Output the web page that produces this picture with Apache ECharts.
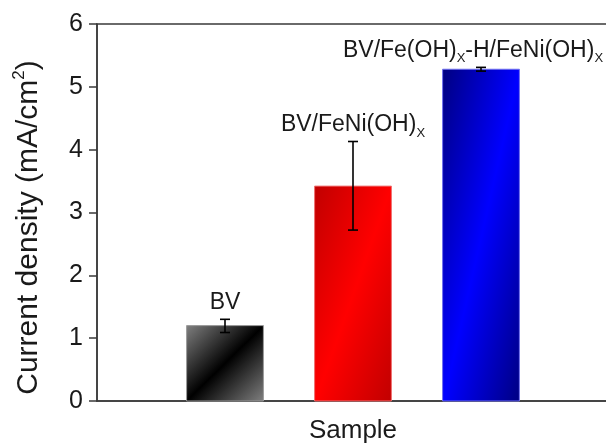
<!DOCTYPE html>
<html>
<head>
<meta charset="utf-8">
<script src="https://cdn.jsdelivr.net/npm/echarts@6/dist/echarts.min.js"></script>
<style>
  html, body { margin: 0; padding: 0; background: #ffffff; }
  #chart { width: 606px; height: 448px; }
</style>
</head>
<body>
<div id="chart"></div>
<script>
// Sample names (rich-text tags mark the subscripts)
const sampleLabels = ['BV', 'BV/FeNi(OH){s|X}', 'BV/Fe(OH){s|X}-H/FeNi(OH){s|X}'];
// Bar slots along the sample axis
const samplePositions = [1, 2, 3];
// Photocurrent density, mA/cm2
const currentDensity = [1.20, 3.42, 5.28];
// Error-bar limits
const errorLow = [1.09, 2.72, 5.25];
const errorHigh = [1.30, 4.13, 5.31];
// Y-axis tick range
const yMin = 0, yMax = 6, yStep = 1;

// Fill styles for each bar: corner colour, mid-diagonal colour, outline
const barPalettes = [
  { edge: '#808080', mid: '#000000', stroke: '#9a9a9a' },
  { edge: '#c00000', mid: '#ff0000', stroke: '#f07070' },
  { edge: '#000080', mid: '#0000ff', stroke: '#6f6ff0' }
];
const labelShiftX = [0, 0, -8];
const BAR_SPAN = 0.6;     // bar width in axis units
const CAP_HALF = 5;       // error-bar cap half width, px
const TEXT_COLOR = '#1a1a1a';
const AXIS_COLOR = '#3a3a3a';
const FONT = 'Liberation Sans, Arial, Helvetica, sans-serif';

const barData = samplePositions.map((x, i) => [x, currentDensity[i]]);
const errData = samplePositions.map((x, i) => [x, errorLow[i], errorHigh[i]]);
const labelData = samplePositions.map((x, i) => [x, errorHigh[i], i]);

function renderBar(params, api) {
  const x = api.value(0), v = api.value(1);
  const base = api.coord([x, 0]);
  const top = api.coord([x, v]);
  const w = api.size([BAR_SPAN, 0])[0];
  const h = base[1] - top[1];
  const s = h * h + w * w;
  const pal = barPalettes[params.dataIndex];
  // gradient bands run along the bar's anti-diagonal
  return {
    type: 'rect',
    shape: { x: base[0] - w / 2, y: top[1], width: w, height: h },
    style: {
      fill: {
        type: 'linear', x: 0, y: 0, x2: 2 * h * h / s, y2: 2 * w * w / s,
        colorStops: [
          { offset: 0, color: pal.edge },
          { offset: 0.5, color: pal.mid },
          { offset: 1, color: pal.edge }
        ]
      },
      stroke: pal.stroke,
      lineWidth: 1
    }
  };
}

function renderError(params, api) {
  const x = api.value(0);
  const lo = api.coord([x, api.value(1)]);
  const hi = api.coord([x, api.value(2)]);
  const st = { stroke: '#000000', lineWidth: 1.6 };
  return {
    type: 'group',
    children: [
      { type: 'line', shape: { x1: lo[0], y1: lo[1], x2: hi[0], y2: hi[1] }, style: st },
      { type: 'line', shape: { x1: lo[0] - CAP_HALF, y1: lo[1], x2: lo[0] + CAP_HALF, y2: lo[1] }, style: st },
      { type: 'line', shape: { x1: hi[0] - CAP_HALF, y1: hi[1], x2: hi[0] + CAP_HALF, y2: hi[1] }, style: st }
    ]
  };
}

function renderLabel(params, api) {
  const x = api.value(0);
  const idx = api.value(2);
  const p = api.coord([x, api.value(1)]);
  return {
    type: 'text',
    x: p[0] + labelShiftX[idx],
    y: p[1] - 2,
    style: {
      text: sampleLabels[idx],
      fill: TEXT_COLOR,
      fontFamily: FONT,
      fontSize: 23,
      lineHeight: 30,
      align: 'center',
      verticalAlign: 'bottom',
      rich: {
        s: { fontSize: 13, lineHeight: 13, verticalAlign: 'bottom', fill: TEXT_COLOR, fontFamily: FONT }
      }
    }
  };
}

const chart = echarts.init(document.getElementById('chart'), null, { renderer: 'canvas' });
chart.setOption({
  animation: false,
  backgroundColor: '#ffffff',
  grid: {
    left: 97, top: 24, width: 512, bottom: 47,
    outerBoundsMode: 'none',
    show: true, borderColor: AXIS_COLOR, borderWidth: 1.5
  },
  xAxis: {
    type: 'value', min: 0, max: 4,
    name: 'Sample', nameLocation: 'middle', nameGap: 17,
    nameTextStyle: { fontFamily: FONT, fontSize: 26, color: TEXT_COLOR },
    axisLine: { show: true, lineStyle: { color: AXIS_COLOR, width: 1.5 } },
    axisTick: { show: false },
    axisLabel: { show: false },
    splitLine: { show: false }
  },
  yAxis: {
    type: 'value', min: yMin, max: yMax, interval: yStep,
    name: 'Current density (mA/cm{sup|2})', nameLocation: 'middle', nameGap: 50,
    nameTextStyle: {
      fontFamily: FONT, fontSize: 30, color: TEXT_COLOR, lineHeight: 36,
      padding: [0, 30, 0, 0],
      rich: { sup: { fontSize: 17, lineHeight: 17, verticalAlign: 'top', fontFamily: FONT, color: TEXT_COLOR } }
    },
    axisLine: { show: true, lineStyle: { color: AXIS_COLOR, width: 1.5 } },
    axisTick: { show: true, inside: false, length: 8, lineStyle: { color: AXIS_COLOR, width: 1.5 } },
    axisLabel: { margin: 14, fontFamily: FONT, fontSize: 25, color: TEXT_COLOR },
    splitLine: { show: false }
  },
  series: [
    { type: 'custom', renderItem: renderBar, data: barData, encode: { x: 0, y: 1 }, z: 2 },
    { type: 'custom', renderItem: renderError, data: errData, encode: { x: 0, y: [1, 2] }, z: 3 },
    { type: 'custom', renderItem: renderLabel, data: labelData, encode: { x: 0, y: 1 }, z: 4 }
  ]
});
</script>
</body>
</html>
